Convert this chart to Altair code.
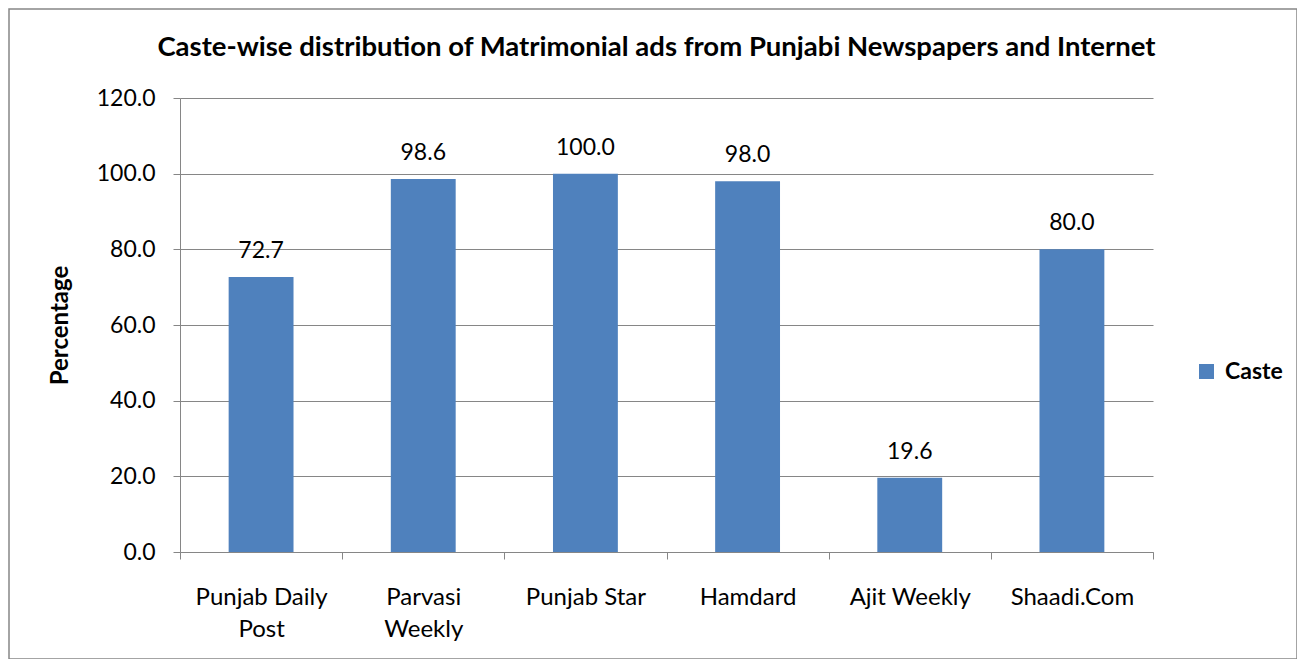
import altair as alt
import pandas as pd

categories = ["Punjab Daily Post", "Parvasi Weekly", "Punjab Star", "Hamdard", "Ajit Weekly", "Shaadi.Com"]
values = [72.7, 98.6, 100.0, 98.0, 19.6, 80.0]
series_name = "Caste"
y_ticks = [0, 20, 40, 60, 80, 100, 120]
chart_title = "Caste-wise distribution of Matrimonial ads from Punjabi Newspapers and Internet"

df = pd.DataFrame({"Source": categories, "Percentage": values, "Series": [series_name] * len(categories)})
frame_df = pd.DataFrame({"f": [1]})

FONT = "Lato"
GRAY = "#868686"
BLUE = "#4F81BD"

label_expr = ("datum.label == 'Punjab Daily Post' ? ['Punjab Daily', 'Post'] : "
              "datum.label == 'Parvasi Weekly' ? ['Parvasi', 'Weekly'] : datum.label")

x_enc = alt.X(
    "Source:N", sort=categories, title=None,
    scale=alt.Scale(paddingInner=0, paddingOuter=0),
    axis=alt.Axis(tickBand="extent", tickSize=7, tickColor=GRAY, domainColor=GRAY,
                  labelAngle=0, labelFont=FONT, labelFontSize=24, labelColor="black",
                  labelPadding=26, labelBaseline="top", labelLineHeight=32,
                  labelExpr=label_expr, grid=False),
)
y_enc = alt.Y(
    "Percentage:Q", scale=alt.Scale(domain=[0, 120], nice=False),
    axis=alt.Axis(values=y_ticks, format=".1f", title="Percentage", grid=True,
                  gridColor=GRAY, domainColor=GRAY, tickColor=GRAY, tickSize=7,
                  labelPadding=18, labelFont=FONT, labelFontSize=23, labelColor="black",
                  titleFont=FONT, titleFontSize=24, titleFontWeight="bold", titleColor="black",
                  titleX=-120, titleY=227, titleAngle=270, titleAlign="center",
                  titleBaseline="middle"),
)

bars = alt.Chart(df).mark_bar(width=alt.RelativeBandSize(0.4), color=BLUE).encode(
    x=x_enc, y=y_enc,
    color=alt.Color("Series:N", scale=alt.Scale(range=[BLUE]),
                    legend=alt.Legend(title=None, orient="none", legendX=1015, legendY=262,
                                      symbolType="square", symbolSize=225, symbolStrokeWidth=0,
                                      labelFont=FONT, labelFontSize=23, labelFontWeight="bold",
                                      labelColor="black", labelOffset=7, padding=0)),
)

labels = alt.Chart(df).mark_text(dy=-19, baseline="alphabetic", font=FONT, fontSize=23,
                                 color="black").encode(
    x=alt.X("Source:N", sort=categories),
    y=alt.Y("Percentage:Q"),
    text=alt.Text("Percentage:Q", format=".1f"),
)

frame = alt.Chart(frame_df).mark_rect(filled=False, stroke=GRAY, strokeWidth=1.5).encode(
    x=alt.value(-171), x2=alt.value(1117), y=alt.value(-89), y2=alt.value(561),
)

chart = alt.layer(frame, bars, labels).properties(
    width=973, height=454,
    title=alt.TitleParams(text=chart_title, font=FONT, fontSize=27.5, fontWeight="bold",
                          color="black", anchor="middle", dx=-10, offset=-75,
                          baseline="alphabetic"),
    autosize=alt.AutoSizeParams(type="none"),
    padding={"left": 172, "top": 90, "right": 144, "bottom": 107},
).configure_view(stroke=None)

chart.save("out.html", embed_options={"renderer": "svg", "actions": False})
